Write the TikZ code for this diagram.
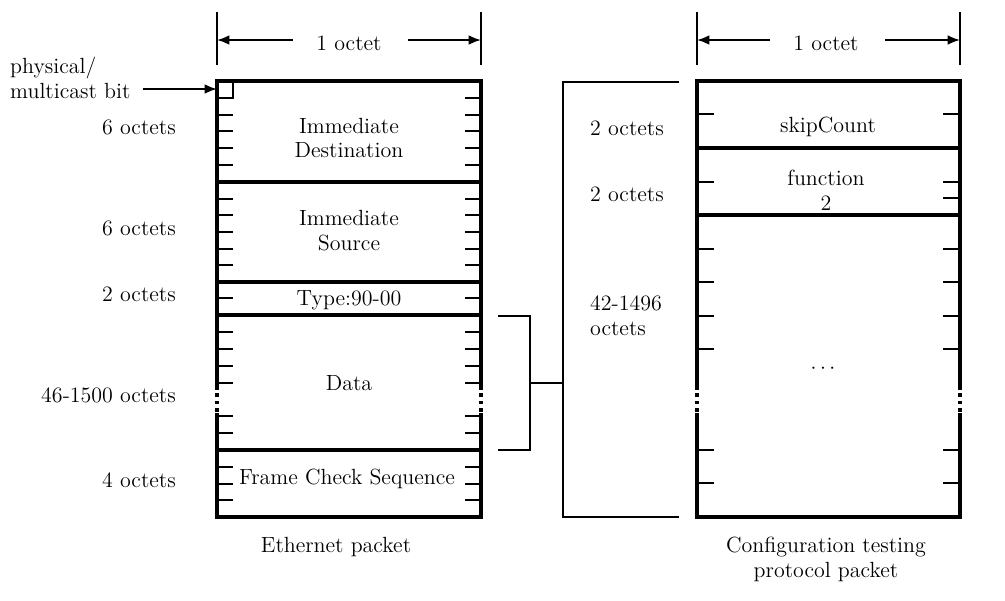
\documentclass[tikz,border=0pt]{standalone}
\usepackage{tikz}
\usetikzlibrary{arrows.meta}

\begin{document}
\begin{tikzpicture}[
        x=0.02cm, y=-0.02cm,
        every node/.style={font=\fontsize{12.5}{14.2}\selectfont},
        frame/.style={line width=1.9pt},
        tick/.style={line width=1.3pt},
        brace/.style={line width=1pt},
        dim/.style={line width=1.1pt, -{Latex[length=7pt,width=5.5pt]}},
        gap/.style={line width=1.9pt, dash pattern=on 2pt off 2.2pt}
    ]
    \useasboundingbox (0,0) rectangle (1005,600);

    % Width markers
    \draw[line width=1.4pt] (217,12) -- (217,65) (481,12) -- (481,65);
    \draw[line width=1.4pt] (697,12) -- (697,65) (960,12) -- (960,65);
    \node (octL) at (349,43) {1 octet};
    \node (octR) at (826,43) {1 octet};
    \draw[dim] (293,40) -- (217,40);
    \draw[dim] (408,40) -- (481,40);
    \draw[dim] (770,40) -- (697,40);
    \draw[dim] (885,40) -- (960,40);

    % Ethernet packet
    \draw[frame] (217,386) -- (217,81) -- (481,81) -- (481,386);
    \draw[frame] (217,413) -- (217,517) -- (481,517) -- (481,413);
    \draw[gap] (217,386) -- (217,413) (481,386) -- (481,413);
    \foreach \y in {182,282,315,450}
        \draw[frame] (217,\y) -- (481,\y);
    \draw[tick] (217,81) rectangle (233,98);
    \foreach \y in {115,131,148,165,199,215,232,249,265,298,332,349,366,383,416,433,467,484,500}
        \draw[tick] (217,\y) -- ++(16,0);
    \foreach \y in {98,115,131,148,165,199,215,232,249,265,298,332,349,366,383,416,433,467,484,500}
        \draw[tick] (481,\y) -- ++(-16,0);

    \node[align=center] (dest) at (349,138) {Immediate\\Destination};
    \node[align=center] (src) at (349,231) {Immediate\\Source};
    \node (type) at (349,300) {Type:90-00};
    \node (data) at (349,383) {Data};
    \node (fcs) at (347,479) {Frame Check Sequence};
    \node (eth) at (336,547) {Ethernet packet};

    % Field sizes
    \node[anchor=east] (s1) at (182,127) {6 octets};
    \node[anchor=east] (s2) at (182,228) {6 octets};
    \node[anchor=east] (s3) at (182,294) {2 octets};
    \node[anchor=east] (s4) at (182,395) {46-1500 octets};
    \node[anchor=east] (s5) at (182,480) {4 octets};

    % Multicast bit
    \node[anchor=west] (phys) at (4,68) {physical/};
    \node[anchor=west] (mcast) at (4,91) {multicast bit};
    \coordinate (bitsq) at (217,89);
    \draw[dim] (mcast.east |- bitsq) ++(6,0) -- (bitsq);

    % Brackets
    \draw[brace] (498,316) -- (530,316) -- (530,450) -- (498,450);
    \draw[brace] (530,383) -- (563,383);
    \draw[brace] (679,82) -- (563,82) -- (563,517) -- (679,517);

    \node[anchor=west] (r1) at (584,128) {2 octets};
    \node[anchor=west] (r2) at (584,194) {2 octets};
    \node[anchor=west, align=left] (r3) at (584,316) {42-1496\\octets};

    % Configuration testing packet
    \draw[frame] (697,386) -- (697,81) -- (960,81) -- (960,386);
    \draw[frame] (697,413) -- (697,517) -- (960,517) -- (960,413);
    \draw[gap] (697,386) -- (697,413) (960,386) -- (960,413);
    \foreach \y in {148,215}
        \draw[frame] (697,\y) -- (960,\y);
    \foreach \y in {114,182,249,282,316,349,450,483}
        \draw[tick] (697,\y) -- ++(17,0);
    \foreach \y in {114,182,198,249,282,316,349,450,483}
        \draw[tick] (960,\y) -- ++(-17,0);

    \node (skip) at (828,127) {skipCount};
    \node[align=center] (func) at (826,190) {function\\2};
    \node (dots) at (823,369) {$\cdots$};
    \node[align=center] (ctp) at (826,559) {Configuration testing\\protocol packet};

\end{tikzpicture}
\end{document}
